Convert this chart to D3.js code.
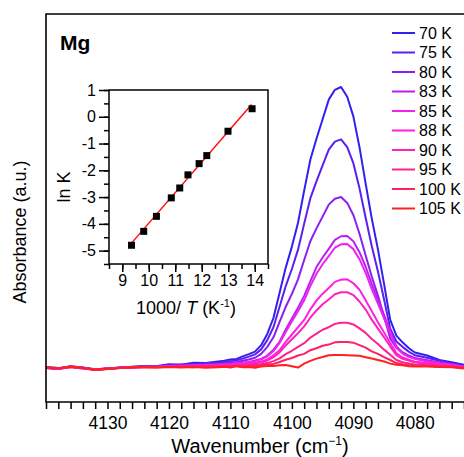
<!DOCTYPE html>
<html>
<head>
<meta charset="utf-8">
<script src="https://cdn.jsdelivr.net/npm/d3@7"></script>
<style>
  body { margin: 0; background: #fff; }
  text { font-family: "Liberation Sans", Arial, Helvetica, sans-serif; fill: #000; }
</style>
</head>
<body>
<div class="canvas"></div>
<script>
// spectra: shared wavenumber grid (cm-1)
const wavenumbers = [4140, 4138, 4136, 4134, 4132, 4130, 4128, 4126, 4124, 4122, 4120, 4118, 4116, 4114, 4112,
  4111, 4110, 4109, 4108, 4107, 4106, 4105, 4104, 4103, 4102, 4101, 4100, 4099, 4098, 4097, 4096,
  4095, 4094, 4093, 4092, 4091, 4090, 4089, 4088, 4087, 4086, 4085, 4084, 4083, 4082, 4081,
  4080, 4078, 4076, 4074, 4072];

const temperatures = ['70 K', '75 K', '80 K', '83 K', '85 K', '88 K', '90 K', '95 K', '100 K', '105 K'];
const colors = ['#3320f0', '#5b20f0', '#8a20f0', '#bb20f0', '#f020f0', '#ff20e0', '#ff20c0', '#ff2090', '#ff2060', '#ff2020'];

const abs70 = [0.000, -0.004, 0.003, -0.002, -0.008, -0.005, -0.002, 0.001, 0.004, 0.003, 0.010, 0.008, 0.015, 0.014, 0.020,
  0.022, 0.027, 0.029, 0.038, 0.046, 0.055, 0.078, 0.118, 0.175, 0.265, 0.355, 0.430, 0.515, 0.630, 0.740, 0.815,
  0.885, 0.955, 0.990, 1.000, 0.965, 0.895, 0.785, 0.655, 0.530, 0.420, 0.296, 0.168, 0.112, 0.088, 0.068,
  0.052, 0.041, 0.025, 0.017, 0.008];
const abs75 = [-0.003, -0.006, 0.001, -0.004, -0.009, -0.004, -0.003, 0.000, 0.002, 0.004, 0.006, 0.009, 0.010, 0.013, 0.015,
  0.018, 0.021, 0.024, 0.030, 0.037, 0.045, 0.063, 0.096, 0.142, 0.215, 0.289, 0.350, 0.419, 0.512, 0.602, 0.663,
  0.720, 0.776, 0.805, 0.813, 0.785, 0.728, 0.638, 0.533, 0.431, 0.341, 0.241, 0.137, 0.091, 0.072, 0.055,
  0.042, 0.033, 0.022, 0.013, 0.005];
const abs80 = [-0.002, -0.005, 0.002, -0.003, -0.010, -0.006, -0.002, -0.001, 0.002, 0.001, 0.005, 0.006, 0.008, 0.009, 0.011,
  0.013, 0.016, 0.018, 0.022, 0.027, 0.033, 0.047, 0.072, 0.106, 0.161, 0.215, 0.261, 0.313, 0.382, 0.449, 0.495,
  0.537, 0.580, 0.601, 0.607, 0.586, 0.543, 0.476, 0.398, 0.322, 0.255, 0.180, 0.102, 0.068, 0.053, 0.041,
  0.032, 0.024, 0.016, 0.010, 0.003];
const abs83 = [-0.004, -0.007, 0.000, -0.005, -0.011, -0.007, -0.004, -0.002, 0.000, 0.002, 0.003, 0.005, 0.004, 0.008, 0.009,
  0.010, 0.011, 0.012, 0.016, 0.018, 0.023, 0.029, 0.041, 0.062, 0.090, 0.134, 0.173, 0.212, 0.254, 0.306, 0.357,
  0.391, 0.422, 0.454, 0.467, 0.468, 0.449, 0.410, 0.358, 0.296, 0.240, 0.185, 0.128, 0.074, 0.051, 0.040,
  0.030, 0.022, 0.014, 0.009, 0.002];
const abs85 = [-0.003, -0.006, 0.002, -0.004, -0.009, -0.006, -0.003, -0.001, 0.001, 0.000, 0.004, 0.004, 0.006, 0.006, 0.008,
  0.009, 0.010, 0.013, 0.014, 0.017, 0.021, 0.027, 0.038, 0.057, 0.086, 0.125, 0.163, 0.199, 0.238, 0.289, 0.333,
  0.367, 0.396, 0.426, 0.438, 0.439, 0.421, 0.385, 0.336, 0.278, 0.226, 0.174, 0.120, 0.069, 0.048, 0.036,
  0.029, 0.020, 0.013, 0.008, 0.001];
const abs88 = [-0.004, -0.005, 0.001, -0.003, -0.010, -0.005, -0.004, 0.000, 0.000, 0.001, 0.002, 0.003, 0.004, 0.005, 0.006,
  0.006, 0.008, 0.008, 0.011, 0.012, 0.015, 0.019, 0.027, 0.042, 0.060, 0.090, 0.116, 0.142, 0.168, 0.206, 0.237,
  0.262, 0.282, 0.304, 0.312, 0.313, 0.299, 0.276, 0.238, 0.199, 0.160, 0.123, 0.086, 0.049, 0.034, 0.026,
  0.019, 0.014, 0.009, 0.006, 0.000];
const abs90 = [-0.003, -0.007, 0.000, -0.005, -0.009, -0.006, -0.003, -0.002, 0.001, 0.000, 0.002, 0.002, 0.003, 0.004, 0.005,
  0.005, 0.007, 0.007, 0.009, 0.010, 0.013, 0.016, 0.023, 0.035, 0.052, 0.077, 0.099, 0.121, 0.145, 0.176, 0.202,
  0.224, 0.241, 0.260, 0.267, 0.267, 0.257, 0.234, 0.205, 0.169, 0.137, 0.106, 0.073, 0.042, 0.029, 0.023,
  0.017, 0.011, 0.008, 0.004, -0.001];
const abs95 = [-0.004, -0.006, 0.001, -0.004, -0.011, -0.006, -0.004, -0.001, 0.000, -0.001, 0.001, 0.001, 0.002, 0.001, 0.003,
  0.004, 0.003, 0.005, 0.004, 0.007, 0.007, 0.010, 0.014, 0.021, 0.031, 0.046, 0.058, 0.072, 0.085, 0.105, 0.119,
  0.133, 0.142, 0.154, 0.158, 0.158, 0.152, 0.138, 0.122, 0.100, 0.082, 0.062, 0.044, 0.025, 0.017, 0.013,
  0.009, 0.006, 0.004, 0.002, -0.003];
const abs100 = [-0.003, -0.005, 0.000, -0.004, -0.010, -0.007, -0.003, -0.002, 0.000, -0.001, 0.000, 0.001, -0.001, 0.002, 0.001,
  0.003, 0.001, 0.004, 0.002, 0.004, 0.003, 0.006, 0.009, 0.011, 0.018, 0.026, 0.032, 0.041, 0.047, 0.060, 0.067,
  0.076, 0.080, 0.088, 0.089, 0.089, 0.087, 0.078, 0.069, 0.056, 0.047, 0.035, 0.025, 0.014, 0.010, 0.007,
  0.005, 0.004, 0.002, 0.001, -0.004];
const abs105 = [-0.002, -0.004, 0.001, -0.003, -0.009, -0.006, -0.004, -0.001, -0.001, -0.002, 0.000, -0.002, 0.000, -0.003, -0.001,
  0.001, -0.002, 0.003, -0.001, 0.000, -0.003, 0.002, 0.004, 0.004, 0.006, 0.007, 0.003, -0.002, 0.012, 0.022, 0.030,
  0.036, 0.042, 0.043, 0.043, 0.042, 0.041, 0.040, 0.035, 0.030, 0.025, 0.020, 0.012, 0.008, 0.006, 0.003,
  0.002, 0.002, 0.000, -0.001, -0.005];

const spectra = [abs70, abs75, abs80, abs83, abs85, abs88, abs90, abs95, abs100, abs105];

const xTickLabels = [4130, 4120, 4110, 4100, 4090, 4080];

// inset: van 't Hoff plot
const invT = [9.35, 9.81, 10.29, 10.85, 11.17, 11.48, 11.90, 12.19, 12.99, 13.90];
const lnK = [-4.80, -4.28, -3.72, -3.03, -2.66, -2.17, -1.75, -1.45, -0.54, 0.30];
const fitX = [9.35, 13.88];
const fitY = [-4.72, 0.46];
const insetXTicks = [9, 10, 11, 12, 13, 14];
const insetYTicks = [1, 0, -1, -2, -3, -4, -5];

const dims = {width: 464, height: 457};
const plot = {left: 46, right: 464, top: 14, bottom: 402};
const inset = {left: 109, right: 268, top: 90, bottom: 264};
const font = '"Liberation Sans", Arial, Helvetica, sans-serif';

const svg = d3.select('.canvas')
  .append('svg')
  .attr('width', dims.width)
  .attr('height', dims.height);

const x = d3.scaleLinear().domain([4140, 4072]).range([plot.left, plot.right]);
const y = d3.scaleLinear().domain([-0.125, 1.2607]).range([plot.bottom, plot.top]);

// spectra
const line = d3.line()
  .x((d, i) => x(wavenumbers[i]))
  .y(d => y(d));

svg.append('g')
  .selectAll('path')
  .data(spectra)
  .enter()
  .append('path')
    .attr('d', line)
    .attr('fill', 'none')
    .attr('stroke', (d, i) => colors[i])
    .attr('stroke-width', 2)
    .attr('stroke-linejoin', 'round');

// bottom axis
const xAxis = d3.axisBottom(x)
  .tickValues(d3.range(4140, 4071, -2))
  .tickSize(7)
  .tickPadding(8)
  .tickFormat(d => xTickLabels.includes(d) ? d : '');

const xg = svg.append('g')
  .attr('transform', `translate(0, ${plot.bottom})`)
  .call(xAxis);
xg.select('.domain').remove();
xg.selectAll('line').attr('stroke', '#000').attr('stroke-width', 1.5);
xg.selectAll('text').attr('font-size', 17.5).attr('font-family', font).attr('fill', '#000');

// frame
svg.append('path')
  .attr('d', `M${plot.right},${plot.top}H${plot.left}V${plot.bottom}H${plot.right}`)
  .attr('fill', 'none')
  .attr('stroke', '#000')
  .attr('stroke-width', 1.6);

svg.append('text')
  .attr('x', 60).attr('y', 50)
  .attr('font-size', 21).attr('font-weight', 'bold')
  .text('Mg');

svg.append('text')
  .attr('transform', `translate(26, 232) rotate(-90)`)
  .attr('text-anchor', 'middle')
  .attr('font-size', 18)
  .text('Absorbance (a.u.)');

const xl = svg.append('text')
  .attr('x', 260).attr('y', 453)
  .attr('text-anchor', 'middle')
  .attr('font-size', 20);
xl.append('tspan').text('Wavenumber (cm');
xl.append('tspan').attr('dy', -8).attr('font-size', 12).text('\u22121');
xl.append('tspan').attr('dy', 8).text(')');

// legend
const legend = svg.append('g').attr('transform', 'translate(392, 33)');
const rows = legend.selectAll('g')
  .data(temperatures)
  .enter()
  .append('g')
    .attr('transform', (d, i) => `translate(0, ${i * 19.5})`);
rows.append('line')
  .attr('x1', 0).attr('x2', 23)
  .attr('stroke', (d, i) => colors[i])
  .attr('stroke-width', 2);
rows.append('text')
  .attr('x', 27).attr('dy', '0.36em')
  .attr('font-size', 16)
  .text(d => d);

// inset
const ix = d3.scaleLinear().domain([8.5, 14.5]).range([inset.left, inset.right]);
const iy = d3.scaleLinear().domain([-5.5, 1]).range([inset.bottom, inset.top]);

const ig = svg.append('g');
ig.append('rect')
  .attr('x', inset.left).attr('y', inset.top)
  .attr('width', inset.right - inset.left)
  .attr('height', inset.bottom - inset.top)
  .attr('fill', '#fff')
  .attr('stroke', '#000')
  .attr('stroke-width', 1.5);

const ixMinor = ig.append('g')
  .attr('transform', `translate(0, ${inset.bottom})`)
  .call(d3.axisBottom(ix).tickValues(d3.range(8.5, 14.6, 0.5)).tickSize(5).tickFormat(''));
const ixMajor = ig.append('g')
  .attr('transform', `translate(0, ${inset.bottom})`)
  .call(d3.axisBottom(ix).tickValues(insetXTicks).tickSize(8).tickPadding(3).tickFormat(d3.format('d')));
const iyMinor = ig.append('g')
  .attr('transform', `translate(${inset.left}, 0)`)
  .call(d3.axisLeft(iy).tickValues(d3.range(-5.5, 1.01, 0.5)).tickSize(5).tickFormat(''));
const iyMajor = ig.append('g')
  .attr('transform', `translate(${inset.left}, 0)`)
  .call(d3.axisLeft(iy).tickValues(insetYTicks).tickSize(10).tickPadding(3).tickFormat(d => d < 0 ? '-' + Math.abs(d) : d));

[ixMinor, ixMajor, iyMinor, iyMajor].forEach(g => {
  g.select('.domain').remove();
  g.selectAll('line').attr('stroke', '#000').attr('stroke-width', 1.5);
  g.selectAll('text').attr('font-size', 16).attr('font-family', font).attr('fill', '#000');
});

ig.append('path')
  .datum(fitX)
  .attr('d', d3.line().x(d => ix(d)).y((d, i) => iy(fitY[i])))
  .attr('stroke', '#ff1010')
  .attr('stroke-width', 1.5)
  .attr('fill', 'none');

ig.selectAll('rect.pt')
  .data(invT)
  .enter()
  .append('rect')
    .attr('class', 'pt')
    .attr('x', d => ix(d) - 3.5)
    .attr('y', (d, i) => iy(lnK[i]) - 3.5)
    .attr('width', 7).attr('height', 7)
    .attr('fill', '#000');

ig.append('text')
  .attr('transform', `translate(70, 187) rotate(-90)`)
  .attr('text-anchor', 'middle')
  .attr('font-size', 18)
  .text('ln K');

const it = ig.append('text')
  .attr('x', 186).attr('y', 314)
  .attr('text-anchor', 'middle')
  .attr('font-size', 18);
it.append('tspan').text('1000/ ');
it.append('tspan').attr('font-style', 'italic').text('T');
it.append('tspan').text(' (K');
it.append('tspan').attr('dy', -7).attr('font-size', 11).text('-1');
it.append('tspan').attr('dy', 7).text(')');
</script>
</body>
</html>
